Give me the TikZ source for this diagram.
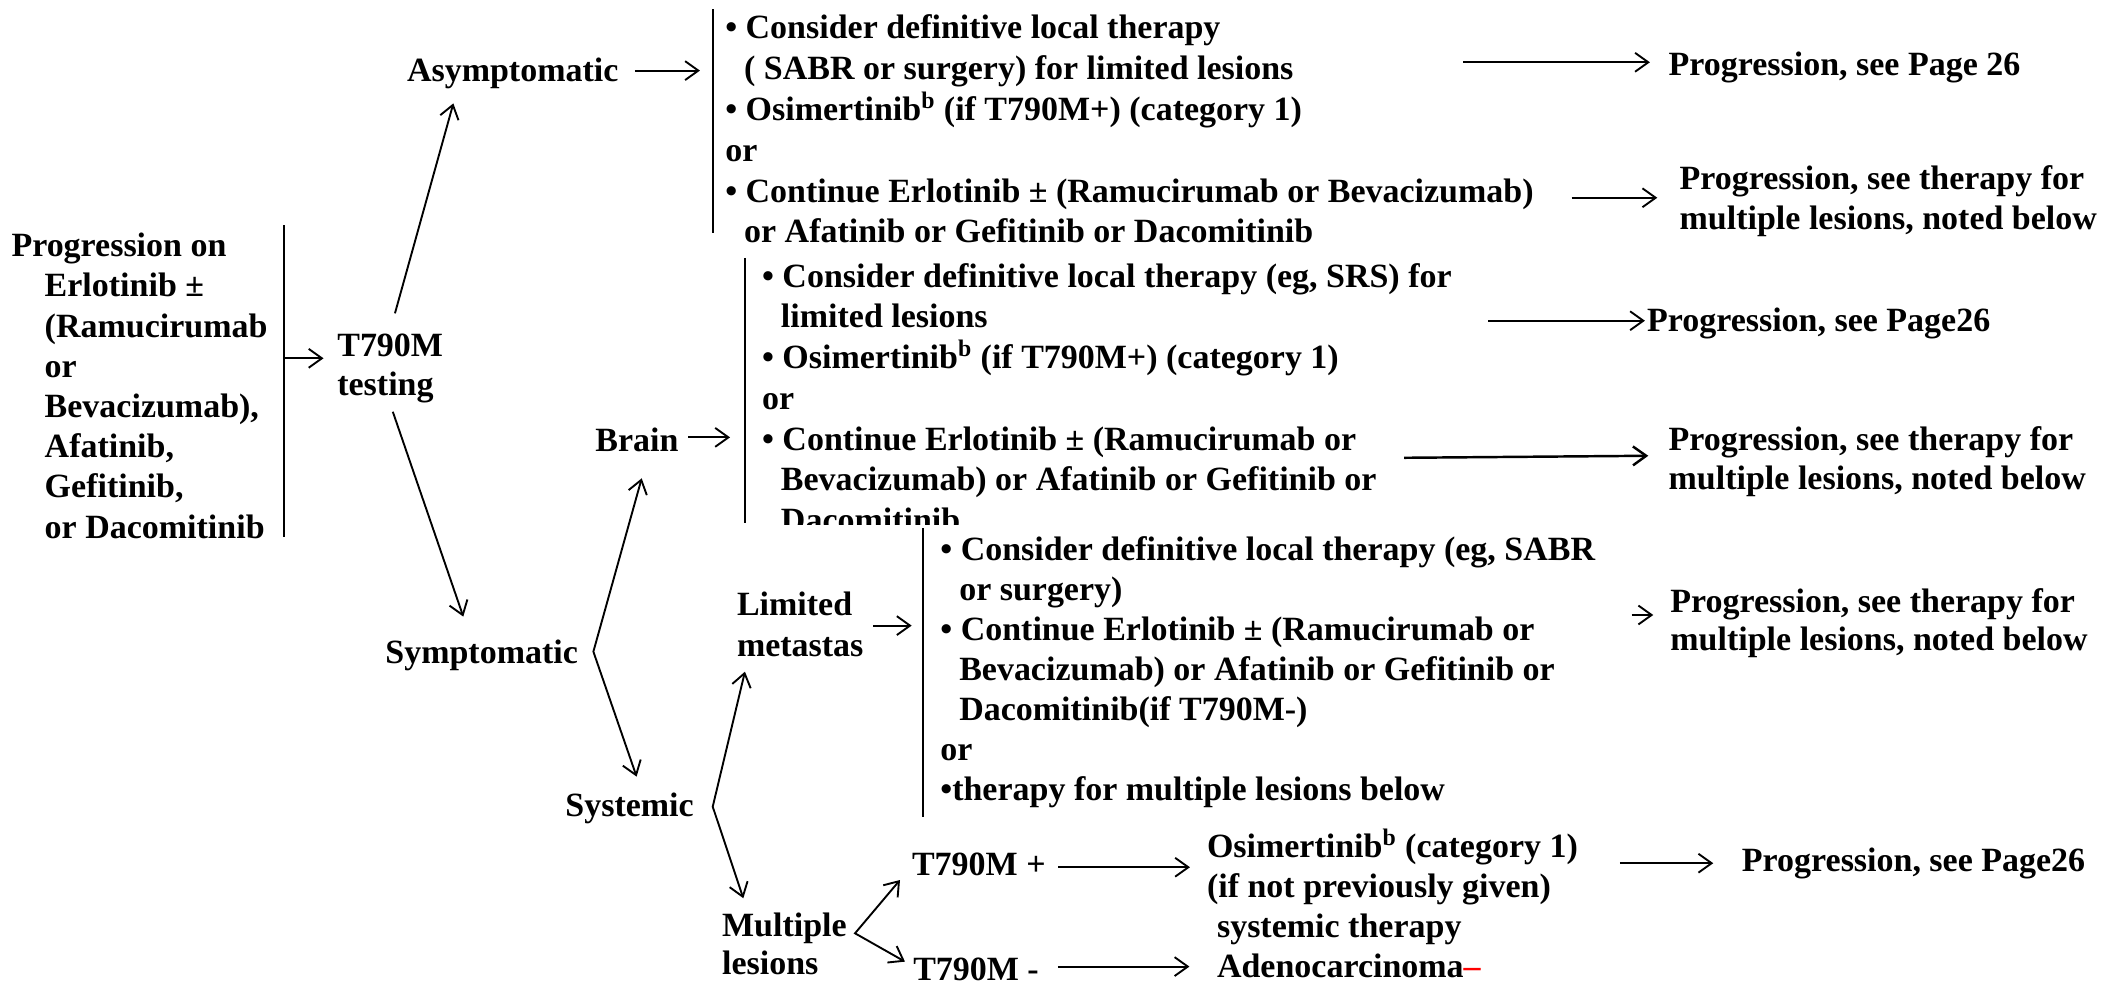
\documentclass[tikz,border=0pt]{standalone}
\usepackage{fontspec}
\setmainfont{Liberation Serif}
\usetikzlibrary{arrows.meta,calc}
\tikzset{
  >={Straight Barb[length=7pt,width=10pt]},
  txt/.style={inner sep=0pt,align=left,anchor=north west,
    font=\fontsize{18}{#1}\selectfont\bfseries,execute at begin node=\strut},
  txt/.default=21.3pt,
  lbl/.style={inner sep=0pt,anchor=base west,font=\fontsize{18}{21.3}\selectfont\bfseries},
  arr/.style={->,line width=1pt},
  bar/.style={line width=1pt},
}
\newcommand\ind{\hspace*{10pt}}

\begin{document}
\begin{tikzpicture}[x=0.025cm,y=-0.025cm]
  \useasboundingbox (0,0) rectangle (1568,731);
  \clip (0,0) rectangle (1568,731);
  % left part
  \node[txt=21.3pt] (prog) at (8.3,173.3) {Progression on\\\hspace*{17.6pt}Erlotinib ±\\\hspace*{17.6pt}(Ramucirumab\\\hspace*{17.6pt}or\\\hspace*{17.6pt}Bevacizumab),\\\hspace*{17.6pt}Afatinib,\\\hspace*{17.6pt}Gefitinib,\\\hspace*{17.6pt}or Dacomitinib};
  \node[txt=21pt] (t790) at (251,248.3) {T790M\\testing};
  \node[lbl] (asym) at (302.9,60.8) {Asymptomatic};
  \node[lbl] (sympt) at (286.8,494.1) {Symptomatic};
  \node[lbl] (brain) at (443.2,336.4) {Brain};
  \node[lbl] (syst) at (420.9,608.3) {Systemic};
  \node[txt=22pt] (limited) at (548.7,440.4) {Limited\\metastas};
  \node[txt=20.2pt] (multi) at (537.6,679.5) {Multiple\\lesions};
  \node[lbl] (tpos) at (679.1,651.8) {T790M +};
  \node[lbl] (tneg) at (680,730) {T790M -};
  \node[txt] (osim) at (898.8,617.5) {Osimertinib\textsuperscript{b} (category 1)\\(if not previously given)};
  \node[txt=21.1pt] (adeno) at (906.3,680.7) {systemic therapy\\Adenocarcinoma\textcolor{red}{–}};

  % treatment blocks
  \node[txt=21.6pt] (b1) at (540,10.9) {• Consider definitive local therapy\\\ind( SABR or surgery) for limited lesions\\• Osimertinib\textsuperscript{b} (if T790M+) (category 1)\\or\\• Continue Erlotinib ± (Ramucirumab or Bevacizumab)\\\ind or Afatinib or Gefitinib or Dacomitinib};
  \node[txt=21.6pt] (b2) at (567.4,195.7) {• Consider definitive local therapy (eg, SRS) for\\\ind limited lesions\\• Osimertinib\textsuperscript{b} (if T790M+) (category 1)\\or\\• Continue Erlotinib ± (Ramucirumab or\\\ind Bevacizumab) or Afatinib or Gefitinib or\\\ind Dacomitinib};
  \fill[white] ($(b2.north west)+(-10,195.5)$) rectangle ++(450,6);
  \node[txt=21.2pt] (b3) at (700.2,399.4) {• Consider definitive local therapy (eg, SABR\\\ind or surgery)\\• Continue Erlotinib ± (Ramucirumab or\\\ind Bevacizumab) or Afatinib or Gefitinib or\\\ind Dacomitinib(if T790M-)\\or\\•therapy for multiple lesions below};

  % outcomes
  \node[lbl] (pg1) at (1242.7,55.9) {Progression, see Page 26};
  \node[txt=21.1pt] (pm1) at (1250.9,123.2) {Progression, see therapy for\\multiple lesions, noted below};
  \node[lbl] (pg2) at (1226.6,247) {Progression, see Page26};
  \node[txt=20.6pt] (pm2) at (1242.7,317.7) {Progression, see therapy for\\multiple lesions, noted below};
  \node[txt=20.3pt] (pm3) at (1244,438) {Progression, see therapy for\\multiple lesions, noted below};
  \node[lbl] (pg3) at (1297.3,649.3) {Progression, see Page26};

  % bars
  \draw[bar] ($(prog.north west)+(203.5,-5.7)$) -- ++(0,232.2);
  \draw[bar] ($(b1.north west)+(-9.1,-3.9)$) -- ++(0,166.6);
  \draw[bar] ($(b2.north west)+(-12.4,-3.7)$) -- ++(0,197.8);
  \draw[bar] ($(b3.north west)+(-12.9,-5.8)$) -- ++(0,214.7);

  % connectors
  \draw[arr] ($(t790.north west)+(-39.2,18.6)$) -- ++(29.2,0);
  \draw[arr] ($(t790.north west)+(43.2,-14.9)$) -- ($(asym.base west)+(34.8,16.2)$);
  \draw[arr] ($(t790.north west)+(41.6,58.4)$) -- ($(sympt.base west)+(58.3,-34.8)$);
  \draw[arr] ($(asym.base west)+(170.1,-8.2)$) -- ++(48.4,0);
  \draw[arr] ($(brain.base west)+(69.5,-10.6)$) -- ++(31.1,0);
  \draw[arr] ($(limited.north west)+(101.8,25.6)$) -- ++(28.6,0);
  \coordinate (sv) at ($(sympt.base west)+(155.2,-8.7)$);
  \draw[arr,<->] ($(brain.base west)+(34.8,19.9)$) -- (sv) -- ($(syst.base west)+(53.3,-29.8)$);
  \coordinate (yv) at ($(syst.base west)+(110,-7.4)$);
  \draw[arr,<->] ($(limited.north west)+(6.2,59.9)$) -- (yv) -- ($(multi.north west)+(16.1,-10.4)$);
  \coordinate (mv) at ($(multi.north west)+(99.3,15.7)$);
  \draw[arr,<->] ($(tpos.base west)+(-8.7,3.7)$) -- (mv) -- ($(tneg.base west)+(-5.9,-13.7)$);
  \draw[arr] ($(tpos.base west)+(109.2,-5.8)$) -- ++(98.1,0);
  \draw[arr] ($(tneg.base west)+(108,-10)$) -- ++(98,0);

  \draw[arr] ($(pg1.base west)+(-152.7,-9.5)$) -- ++(139,0);
  \draw[arr] ($(pm1.north west)+(-80.2,24.1)$) -- ++(63.8,0);
  \draw[arr] ($(pg2.base west)+(-118,-8.1)$) -- ++(116.7,0);
  \draw[arr,line width=1.3pt] ($(pm2.north west)+(-196.7,23.3)$) -- ($(pm2.north west)+(-14.9,21.8)$);
  \draw[arr] ($(pm3.north west)+(-28.6,20.1)$) -- ++(16.1,0);
  \draw[arr] ($(pg3.base west)+(-90.6,-6.3)$) -- ++(69.5,0);
\end{tikzpicture}
\end{document}
